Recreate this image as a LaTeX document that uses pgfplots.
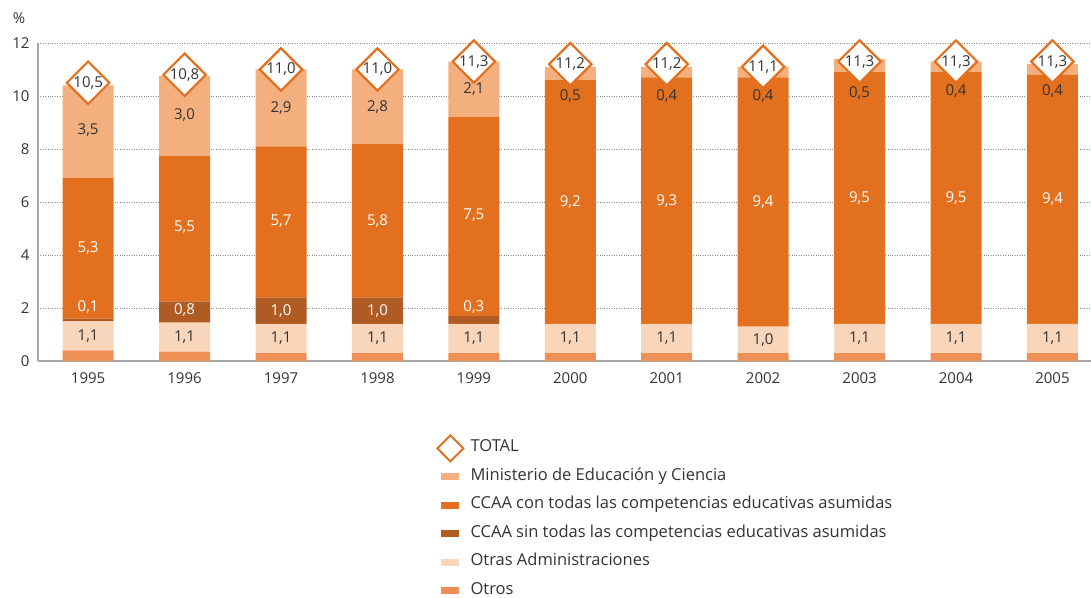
\documentclass[border=0pt]{standalone}
\usepackage{pgfplots}
\pgfplotsset{compat=1.18}
\usepackage{fontspec}
\setmainfont{Open Sans}

\definecolor{cMin}{HTML}{F3B07E}
\definecolor{cCon}{HTML}{E3701E}
\definecolor{cSin}{HTML}{B05A24}
\definecolor{cOtras}{HTML}{F9D5B9}
\definecolor{cOtros}{HTML}{EE9055}
\definecolor{txt}{HTML}{333333}

\newcommand{\fs}{\fontsize{15}{17}\selectfont}
\newcommand{\fl}{\fontsize{16.5}{18}\selectfont}

\begin{document}
\begin{tikzpicture}
\path[use as bounding box] (-38pt,-236pt) rectangle (1053pt,361pt);
\pgfplotsset{
  base/.style={scale only axis, width=1053pt, height=318pt,
    xmin=-0.52, xmax=10.4, ymin=0, ymax=12},
}
% stacked bars
\begin{axis}[base, ybar stacked, bar width=51pt,
    axis x line*=bottom, axis y line*=left,
    axis line style={draw=black!35, line width=1.2pt, -},
    ytick={0,2,...,12}, ymajorgrids,
    grid style={dotted, black!45, line width=0.9pt},
    xtick={0,...,10},
    xticklabels={1995,1996,1997,1998,1999,2000,2001,2002,2003,2004,2005},
    major tick length=0pt,
    tick label style={font=\fs, text=txt},
    yticklabel style={xshift=-5pt},
    xticklabel style={yshift=-8pt},
    /pgf/number format/assume math mode=true,
    ylabel={\%}, ylabel style={rotate=-90, font=\fs, text=txt,
      at={(axis description cs:-0.018,1.079)}, anchor=center},
  ]
\addplot[fill=cOtros, draw=none] coordinates {
  (0,0.4)(1,0.35)(2,0.3)(3,0.3)(4,0.3)(5,0.3)(6,0.3)(7,0.3)(8,0.3)(9,0.3)(10,0.3)};
\addplot[fill=cOtras, draw=none] coordinates {
  (0,1.1)(1,1.1)(2,1.1)(3,1.1)(4,1.1)(5,1.1)(6,1.1)(7,1.0)(8,1.1)(9,1.1)(10,1.1)};
\addplot[fill=cSin, draw=none] coordinates {
  (0,0.1)(1,0.8)(2,1.0)(3,1.0)(4,0.3)(5,0)(6,0)(7,0)(8,0)(9,0)(10,0)};
\addplot[fill=cCon, draw=none] coordinates {
  (0,5.3)(1,5.5)(2,5.7)(3,5.8)(4,7.5)(5,9.2)(6,9.3)(7,9.4)(8,9.5)(9,9.5)(10,9.4)};
\addplot[fill=cMin, draw=none] coordinates {
  (0,3.5)(1,3.0)(2,2.9)(3,2.8)(4,2.1)(5,0.5)(6,0.4)(7,0.4)(8,0.5)(9,0.4)(10,0.4)};
\end{axis}

% labels, totals and legend
\begin{axis}[base, axis lines=none, ticks=none, clip=false,
    nodes near coords style={anchor=center, font=\fs, inner sep=0pt},
    legend cell align=left,
    legend style={at={(0.3827,-0.249)}, anchor=north west, draw=none, fill=none,
      inner sep=0pt, row sep=12.5pt, font=\fl, text=txt,
      nodes={inner sep=0pt, text height=11.5pt, text depth=4.5pt},
      /tikz/every odd column/.append style={column sep=11pt}},
  ]
\addplot[only marks, mark=square*, mark size=15pt,
    mark options={rotate=45, fill=white, draw=cCon, line width=2.2pt},
    nodes near coords, point meta=explicit symbolic,
    nodes near coords style={text=txt},
    legend image code/.code={
      \path (0pt,0pt) (18pt,0pt);
      \draw[overlay, cCon, line width=2pt, fill=white]
        (9pt,13pt) -- (22pt,0pt) -- (9pt,-13pt) -- (-4pt,0pt) -- cycle;}]
  table[meta=lab] {
x y lab
0 10.5 10,5
1 10.8 10,8
2 11.0 11,0
3 11.0 11,0
4 11.3 11,3
5 11.2 11,2
6 11.2 11,2
7 11.1 11,1
8 11.3 11,3
9 11.3 11,3
10 11.3 11,3
};
\addlegendentry{TOTAL}
\pgfplotsset{legend image code/.code={\fill[#1] (0pt,-3.5pt) rectangle (18pt,3.5pt);}}
\addlegendimage{fill=cMin, draw=none}
\addlegendentry{Ministerio de Educación y Ciencia}
\addlegendimage{fill=cCon, draw=none}
\addlegendentry{CCAA con todas las competencias educativas asumidas}
\addlegendimage{fill=cSin, draw=none}
\addlegendentry{CCAA sin todas las competencias educativas asumidas}
\addlegendimage{fill=cOtras, draw=none}
\addlegendentry{Otras Administraciones}
\addlegendimage{fill=cOtros, draw=none}
\addlegendentry{Otros}

% dark labels
\addplot[only marks, mark=none, nodes near coords, point meta=explicit symbolic,
    nodes near coords style={text=txt}, forget plot]
  table[meta=lab] {
x y lab
0 0.95 1,1
1 0.9 1,1
2 0.85 1,1
3 0.85 1,1
4 0.85 1,1
5 0.85 1,1
6 0.85 1,1
7 0.8 1,0
8 0.85 1,1
9 0.85 1,1
10 0.85 1,1
0 8.7 3,5
1 9.3 3,0
2 9.55 2,9
3 9.6 2,8
4 10.25 2,1
5 10.0 0,5
6 10.0 0,4
7 10.0 0,4
8 10.1 0,5
9 10.2 0,4
10 10.2 0,4
};
% white labels
\addplot[only marks, mark=none, nodes near coords, point meta=explicit symbolic,
    nodes near coords style={text=white}, forget plot]
  table[meta=lab] {
x y lab
0 4.25 5,3
1 5.05 5,5
2 5.28 5,7
3 5.3 5,8
4 5.5 7,5
5 6.0 9,2
6 6.05 9,3
7 6.0 9,4
8 6.15 9,5
9 6.15 9,5
10 6.1 9,4
0 2.05 0,1
1 1.92 0,8
2 1.9 1,0
3 1.88 1,0
4 2.05 0,3
};
\end{axis}
\end{tikzpicture}
\end{document}
